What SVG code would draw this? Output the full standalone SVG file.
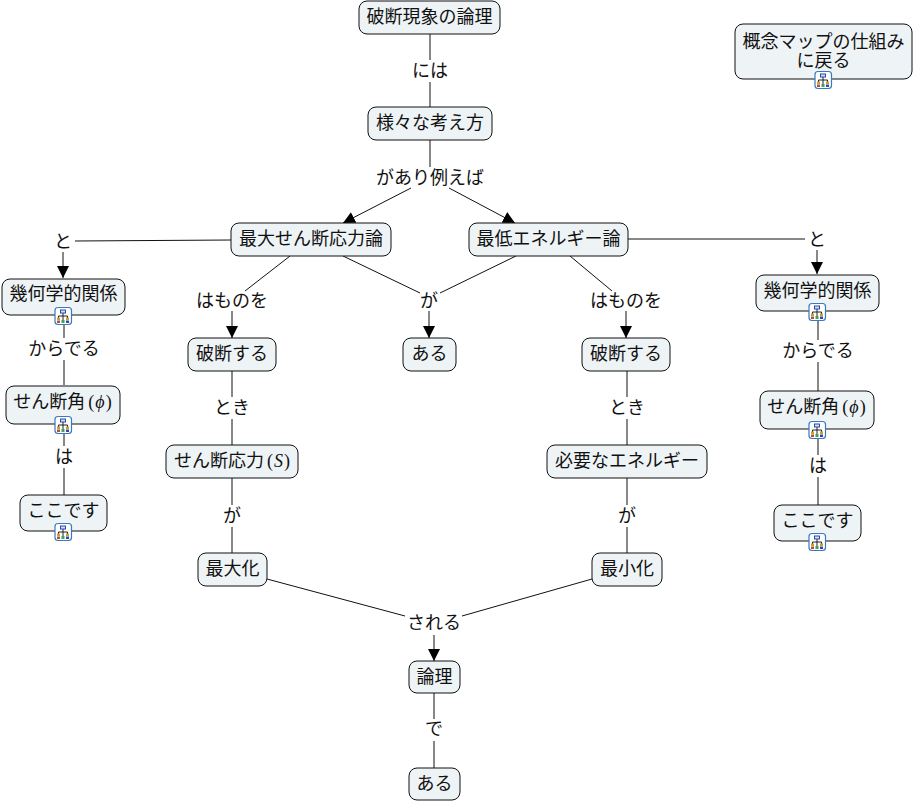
<svg xmlns="http://www.w3.org/2000/svg" xmlns:xlink="http://www.w3.org/1999/xlink" width="914" height="802" viewBox="0 0 914 802">
<style>
text{font-family:"Noto Sans CJK JP","Noto Sans",sans-serif;font-size:18px;fill:#111;text-anchor:middle}
.m{font-family:"Liberation Serif","DejaVu Serif",serif}
.i{font-style:italic}
.n{fill:#eef3f6;stroke:#111;stroke-width:1}
.c{fill:none;stroke:#111;stroke-width:1}
.a{marker-end:url(#arr)}
</style>
<defs>
<marker id="arr" viewBox="0 0 12 12" markerUnits="userSpaceOnUse" markerWidth="12" markerHeight="12" refX="12" refY="6" orient="auto"><path d="M0,0L12,6L0,12Z" fill="#000"/></marker>
<g id="ic">
<rect x="-8" y="-8.500" width="16.500" height="17" rx="3" fill="#fff" stroke="#3a78c0" stroke-width="1.200"/>
<path d="M0,-3V4M-4.500,0H4.500M-4.500,0V2M4.500,0V2" stroke="#222" stroke-width="1" fill="none"/>
<rect x="-2.500" y="-6" width="5" height="3" fill="#cfe0f5" stroke="#2a4ab0" stroke-width="1"/>
<rect x="-6" y="1.500" width="3" height="2.500" fill="#c8a030"/>
<rect x="3" y="1.500" width="3" height="2.500" fill="#c8a030"/>
<rect x="-6" y="4.500" width="3" height="2.500" fill="#b05040"/>
<rect x="3" y="4.500" width="3" height="2.500" fill="#2a4ab0"/>
<rect x="-1.500" y="4" width="3" height="3" fill="#40a060"/>
</g>
</defs>
<g id="connectors">
<path class="c" d="M430,34V60M430,82V107M430,140V167"/>
<path class="c a" d="M411,188L343,223"/>
<path class="c a" d="M449,188L515,223"/>
<path class="c" d="M231,240L75,241M628,239H805"/>
<path class="c a" d="M63,252V278"/>
<path class="c a" d="M817,250V274"/>
<path class="c" d="M290,256L245,291M343,256L420,293M516,256L440,293M570,256L612,291"/>
<path class="c a" d="M232,311V338"/>
<path class="c a" d="M429,311V338"/>
<path class="c a" d="M626,311V338"/>
<path class="c" d="M232,371V397M232,419V445M232,478V505M232,527V553M627,371V397M627,419V445M627,478V505M627,527V553"/>
<path class="c" d="M64,315V338M64,360V385M64,424V446M64,468V495M818,311V340M818,362V391M818,429V455M818,477V505"/>
<path class="c" d="M267,579L405,616M592,579L462,616"/>
<path class="c a" d="M434,635V661"/>
<path class="c" d="M434,693V719M434,741V768"/>
</g>
<g id="labels">
<text x="430" y="77">には</text>
<text x="430" y="184">があり例えば</text>
<text x="63" y="248">と</text>
<text x="817" y="246">と</text>
<text x="232" y="307">はものを</text>
<text x="429" y="307">が</text>
<text x="626" y="307">はものを</text>
<text x="232" y="414">とき</text>
<text x="627" y="414">とき</text>
<text x="232" y="522">が</text>
<text x="627" y="522">が</text>
<text x="64" y="355">からでる</text>
<text x="818" y="357">からでる</text>
<text x="64" y="463">は</text>
<text x="818" y="472">は</text>
<text x="434" y="629">される</text>
<text x="434" y="735">で</text>
</g>
<g id="n1"><rect class="n" x="359" y="1" width="141" height="33" rx="8"/><text x="429.500" y="23">破断現象の論理</text></g>
<g id="n2"><rect class="n" x="368" y="107" width="124" height="33" rx="8"/><text x="430" y="129">様々な考え方</text></g>
<g id="n3"><rect class="n" x="231" y="223" width="160" height="33" rx="8"/><text x="311" y="245">最大せん断応力論</text></g>
<g id="n4"><rect class="n" x="469" y="223" width="159" height="33" rx="8"/><text x="548.500" y="245">最低エネルギー論</text></g>
<g id="n5"><rect class="n" x="2" y="279" width="123" height="36" rx="8"/><text x="63.500" y="300">幾何学的関係</text><use xlink:href="#ic" href="#ic" x="63" y="316"/></g>
<g id="n6"><rect class="n" x="6" y="386" width="114" height="38" rx="8"/><text x="62.500" y="408">せん断角<tspan class="m" dx="3">(</tspan><tspan class="m i" dx="1">ϕ</tspan><tspan class="m" dx="1">)</tspan></text><use xlink:href="#ic" href="#ic" x="63" y="425"/></g>
<g id="n7"><rect class="n" x="20" y="495" width="87" height="36" rx="8"/><text x="63.500" y="517">ここです</text><use xlink:href="#ic" href="#ic" x="63" y="532"/></g>
<g id="n8"><rect class="n" x="188" y="338" width="88" height="33" rx="8"/><text x="232" y="360">破断する</text></g>
<g id="n9"><rect class="n" x="403" y="338" width="53" height="33" rx="8"/><text x="429.500" y="360">ある</text></g>
<g id="n10"><rect class="n" x="582" y="338" width="88" height="33" rx="8"/><text x="626" y="360">破断する</text></g>
<g id="n11"><rect class="n" x="166" y="445" width="132" height="33" rx="8"/><text x="232" y="467">せん断応力<tspan class="m" dx="3">(</tspan><tspan class="m i" dx="1">S</tspan><tspan class="m" dx="1">)</tspan></text></g>
<g id="n12"><rect class="n" x="547" y="445" width="160" height="33" rx="8"/><text x="627" y="467">必要なエネルギー</text></g>
<g id="n13"><rect class="n" x="198" y="553" width="69" height="33" rx="8"/><text x="232.500" y="575">最大化</text></g>
<g id="n14"><rect class="n" x="592" y="553" width="70" height="33" rx="8"/><text x="627" y="575">最小化</text></g>
<g id="n15"><rect class="n" x="409" y="661" width="51" height="32" rx="8"/><text x="434.500" y="683">論理</text></g>
<g id="n16"><rect class="n" x="409" y="768" width="51" height="32" rx="8"/><text x="434.500" y="790">ある</text></g>
<g id="n17"><rect class="n" x="756" y="275" width="123" height="36" rx="8"/><text x="817.500" y="297">幾何学的関係</text><use xlink:href="#ic" href="#ic" x="817" y="312"/></g>
<g id="n18"><rect class="n" x="760" y="391" width="114" height="38" rx="8"/><text x="816.500" y="413">せん断角<tspan class="m" dx="3">(</tspan><tspan class="m i" dx="1">ϕ</tspan><tspan class="m" dx="1">)</tspan></text><use xlink:href="#ic" href="#ic" x="817" y="430"/></g>
<g id="n19"><rect class="n" x="774" y="505" width="87" height="36" rx="8"/><text x="817.500" y="527">ここです</text><use xlink:href="#ic" href="#ic" x="817" y="542"/></g>
<g id="n20"><rect class="n" x="735" y="24" width="177" height="55" rx="8"/><text x="823.500" y="47.500">概念マップの仕組み<tspan x="823.500" dy="19">に戻る</tspan></text><use xlink:href="#ic" href="#ic" x="823" y="80"/></g>
</svg>
